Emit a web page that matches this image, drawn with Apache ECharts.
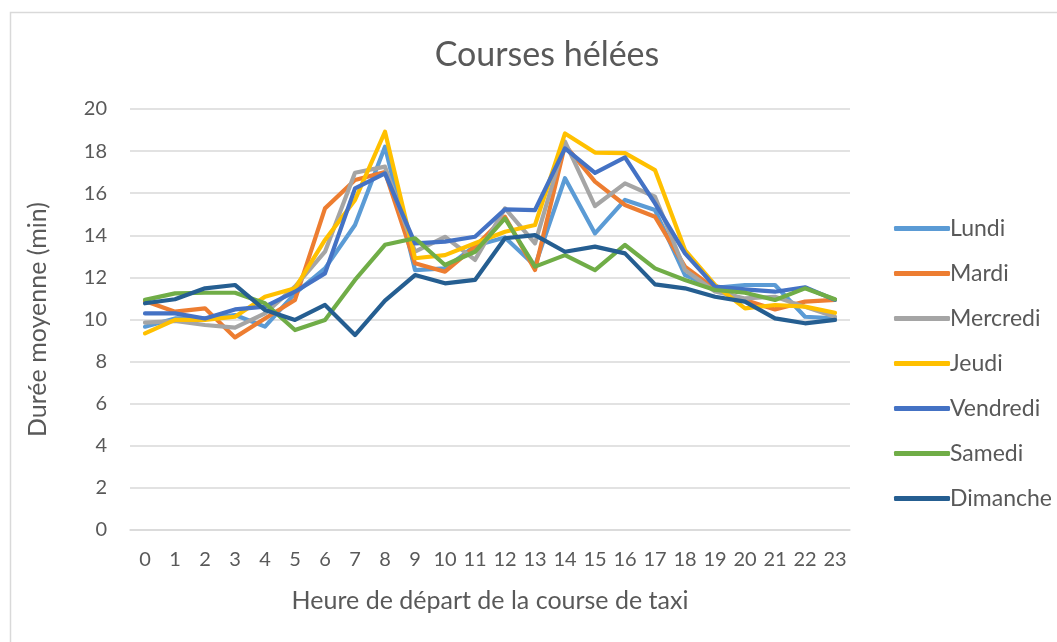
<!DOCTYPE html>
<html>
<head>
<meta charset="utf-8">
<title>Courses hélées</title>
<script src="https://cdn.jsdelivr.net/npm/echarts@6/dist/echarts.min.js"></script>
<style>
  html, body { margin: 0; padding: 0; background: #ffffff; }
  #chart { width: 1057px; height: 642px; }
</style>
</head>
<body>
<div id="chart"></div>
<script>
// heures de départ
var hours = ['0','1','2','3','4','5','6','7','8','9','10','11','12','13','14','15','16','17','18','19','20','21','22','23']
var days = ['Lundi', 'Mardi', 'Mercredi', 'Jeudi', 'Vendredi', 'Samedi', 'Dimanche']

// durée moyenne (min) par heure
var lundi    = [9.66, 10.05, 10.05, 10.21, 9.66, 11.24, 12.43, 14.49, 18.21, 12.35, 12.43, 13.5, 13.9, 12.55, 16.71, 14.09, 15.68, 15.2, 12.11, 11.5, 11.64, 11.64, 10.13, 10.05]
var mardi    = [10.88, 10.37, 10.53, 9.15, 10.05, 10.93, 15.28, 16.63, 17.0, 12.67, 12.27, 13.46, 14.88, 12.35, 18.29, 16.55, 15.44, 14.88, 12.51, 11.45, 10.93, 10.48, 10.85, 10.93]
var mercredi = [9.85, 9.93, 9.74, 9.61, 10.29, 11.56, 13.22, 16.97, 17.26, 13.22, 13.93, 12.83, 15.28, 13.62, 18.45, 15.39, 16.47, 15.83, 12.35, 11.33, 11.0, 11.08, 10.6, 10.13]
var jeudi    = [9.34, 9.98, 9.98, 10.13, 11.08, 11.48, 13.78, 15.68, 18.92, 12.91, 13.06, 13.62, 14.17, 14.49, 18.84, 17.93, 17.9, 17.1, 13.3, 11.64, 10.53, 10.69, 10.61, 10.32]
var vendredi = [10.29, 10.29, 10.05, 10.48, 10.61, 11.32, 12.19, 16.23, 16.94, 13.62, 13.7, 13.93, 15.23, 15.2, 18.13, 16.97, 17.7, 15.52, 13.14, 11.56, 11.43, 11.32, 11.53, 10.93]
var samedi   = [10.93, 11.24, 11.27, 11.27, 10.77, 9.5, 9.98, 11.88, 13.55, 13.86, 12.59, 13.22, 14.8, 12.51, 13.06, 12.35, 13.54, 12.43, 11.88, 11.4, 11.27, 10.93, 11.48, 10.96]
var dimanche = [10.77, 10.96, 11.48, 11.64, 10.45, 9.98, 10.69, 9.26, 10.9, 12.11, 11.72, 11.88, 13.86, 14.01, 13.22, 13.46, 13.14, 11.67, 11.48, 11.08, 10.85, 10.05, 9.82, 9.98]

var yTicks = { min: 0, max: 20, interval: 2 }

var seriesData = [lundi, mardi, mercredi, jeudi, vendredi, samedi, dimanche]
var colors = ['#5B9BD5', '#ED7D31', '#A5A5A5', '#FFC000', '#4472C4', '#70AD47', '#255E91']
var font = 'Lato, "Open Sans", "Noto Sans", sans-serif'

var chart = echarts.init(document.getElementById('chart'), null, { renderer: 'canvas' })

var option = {
  animation: false,
  color: colors,
  // cadre gris clair du graphique
  graphic: [{
    type: 'rect',
    left: 8,
    top: 10,
    shape: { x: 0, y: 0, width: 1200, height: 800 },
    style: { fill: 'none', stroke: '#d9d9d9', lineWidth: 1.5 },
    silent: true
  }],
  title: {
    text: 'Courses hélées',
    left: 542,
    textAlign: 'center',
    top: 33,
    textStyle: { fontFamily: font, fontSize: 34, fontWeight: 'normal', color: '#595959' }
  },
  grid: {
    left: 130,
    right: 207,
    top: 109,
    bottom: 112
  },
  legend: {
    orient: 'vertical',
    left: 889,
    top: 212,
    itemWidth: 56,
    itemHeight: 5,
    itemGap: 22,
    icon: 'roundRect',
    data: days,
    textStyle: { fontFamily: font, fontSize: 23, color: '#595959', padding: [0, 0, 0, -5] }
  },
  xAxis: {
    type: 'category',
    data: hours,
    boundaryGap: true,
    name: 'Heure de départ de la course de taxi',
    nameLocation: 'middle',
    nameGap: 58,
    nameTextStyle: { fontFamily: font, fontSize: 25, color: '#595959' },
    axisLine: { show: true, lineStyle: { color: '#d9d9d9', width: 1.5 } },
    axisTick: { show: false },
    axisLabel: { fontFamily: font, fontSize: 20, color: '#595959', margin: 20, interval: 0 }
  },
  yAxis: {
    type: 'value',
    min: yTicks.min,
    max: yTicks.max,
    interval: yTicks.interval,
    name: 'Durée moyenne (min)',
    nameLocation: 'middle',
    nameRotate: 90,
    nameGap: 80,
    nameTextStyle: { fontFamily: font, fontSize: 25, color: '#595959' },
    axisLine: { show: false },
    axisTick: { show: false },
    axisLabel: { fontFamily: font, fontSize: 20, color: '#595959', margin: 23 },
    splitLine: { lineStyle: { color: '#d9d9d9', width: 1.5 } }
  },
  series: days.map(function (name, i) {
    return {
      name: name,
      type: 'line',
      data: seriesData[i],
      showSymbol: false,
      symbol: 'none',
      lineStyle: { width: 4.2, color: colors[i], cap: 'round', join: 'round' }
    }
  })
}

chart.setOption(option)
</script>
</body>
</html>
